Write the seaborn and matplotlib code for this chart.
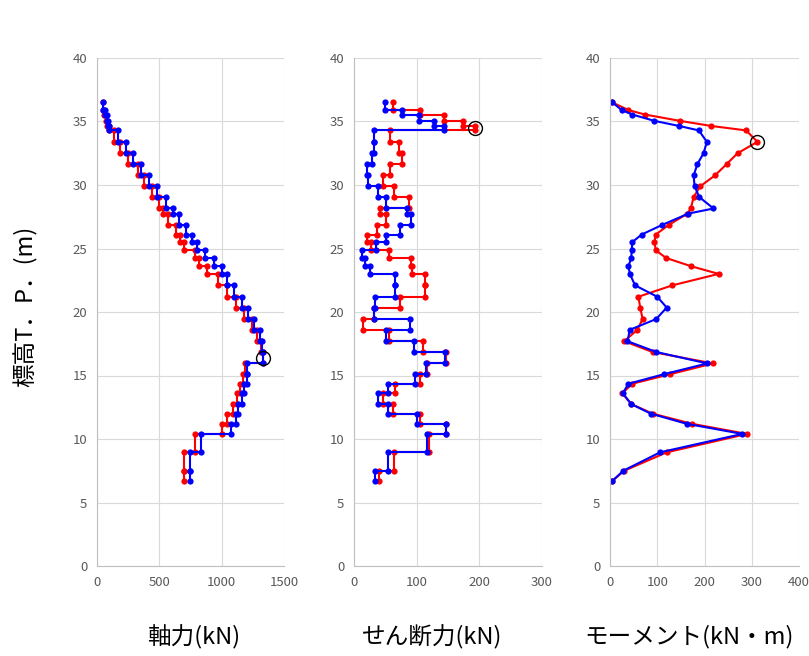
import numpy as np
import pandas as pd
import matplotlib
matplotlib.use('Agg')
import matplotlib.pyplot as plt
import seaborn as sns

# node elevations T.P. (m), top to bottom
elev = [36.5, 35.9, 35.55, 35.05, 34.65, 34.3, 33.4, 32.5, 31.65, 30.75, 29.9, 29.05,
        28.15, 27.75, 26.85, 26.1, 25.5, 24.85, 24.25, 23.6, 23.0, 22.1, 21.2, 20.35,
        19.45, 18.6, 17.7, 16.85, 15.95, 15.1, 14.35, 13.6, 12.75, 12.0, 11.2, 10.4,
        8.95, 7.5, 6.7]

# member values (one per member between two nodes)
axial_red = [50, 60, 70, 84, 94, 140, 185, 246, 327, 380, 439, 500, 527, 567, 634, 666,
             701, 786, 818, 880, 968, 1040, 1112, 1179, 1240, 1280, 1315, 1334, 1187,
             1173, 1147, 1120, 1088, 1045, 1005, 786, 701, 701]
axial_blue = [52, 65, 78, 92, 100, 172, 231, 292, 353, 418, 479, 551, 612, 655, 714, 765,
              805, 866, 936, 1002, 1040, 1099, 1160, 1214, 1259, 1307, 1320, 1334, 1205,
              1200, 1181, 1160, 1133, 1112, 1075, 834, 746, 746]

shear_red = [63, 105, 144, 174, 193, 57, 72, 76, 57, 47, 64, 88, 42, 51, 36, 21, 27, 56,
             91, 92, 113, 113, 74, 32, 14, 56, 110, 147, 116, 105, 65, 47, 62, 106, 147,
             119, 64, 40]
shear_blue = [49, 77, 104, 128, 143, 32, 32, 29, 21, 23, 39, 51, 84, 91, 74, 51, 35, 13,
              18, 25, 65, 65, 34, 32, 89, 51, 95, 145, 115, 97, 55, 38, 54, 100, 147, 117,
              54, 34]

# node values
moment_red = [5, 39, 74, 148, 214, 288, 312, 270, 247, 222, 191, 177, 171, 164, 124, 97,
              94, 97, 119, 172, 230, 132, 60, 64, 69, 58, 30, 90, 218, 127, 47, 26, 45,
              90, 173, 290, 120, 30, 5]
moment_blue = [5, 25, 47, 94, 146, 188, 205, 198, 185, 177, 179, 189, 219, 166, 110, 67,
               47, 46, 45, 39, 42, 53, 100, 120, 98, 42, 37, 98, 206, 114, 39, 27, 45, 86,
               162, 280, 106, 28, 5]

# max markers (value, elevation)
axial_max = (1334, 16.4)
shear_max = (193, 34.46)
moment_max = (312, 33.4)

x_labels = ['軸力(kN)', 'せん断力(kN)', 'モーメント(kN・m)']
y_label = '標高T．P．(m)'

sns.set_theme(style='white')
plt.rcParams['font.family'] = ['Noto Sans CJK JP', 'DejaVu Sans']


def stairs(vals, case):
    x = np.repeat(vals, 2)
    y = np.column_stack([elev[:-1], elev[1:]]).ravel()
    return pd.DataFrame({'x': x, 'y': y, 'case': case})


def nodes(vals, case):
    return pd.DataFrame({'x': vals, 'y': elev, 'case': case})


frames = [
    pd.concat([stairs(axial_red, 'red'), stairs(axial_blue, 'blue')]),
    pd.concat([stairs(shear_red, 'red'), stairs(shear_blue, 'blue')]),
    pd.concat([nodes(moment_red, 'red'), nodes(moment_blue, 'blue')]),
]
maxes = [axial_max, shear_max, moment_max]
xlims = [(0, 1500), (0, 300), (0, 400)]
xticks = [[0, 500, 1000, 1500], [0, 100, 200, 300], [0, 100, 200, 300, 400]]

W, H = 809, 656
fig = plt.figure(figsize=(W / 100, H / 100), dpi=100)
rects = [(97, 187), (354, 188), (610, 189)]
label_x = [194, 432, 689]
top, bottom = 58, 566

for i, (df, mx) in enumerate(zip(frames, maxes)):
    left, w = rects[i]
    ax = fig.add_axes([left / W, (H - bottom) / H, w / W, (bottom - top) / H])
    sns.lineplot(data=df, x='x', y='y', hue='case', hue_order=['red', 'blue'],
                 palette={'red': '#ff0000', 'blue': '#0000ff'}, sort=False,
                 estimator=None, marker='o', markersize=4.5, markeredgewidth=0,
                 linewidth=1.5, legend=False, ax=ax)
    ax.plot(mx[0], mx[1], marker='o', markersize=10, markerfacecolor='none',
            markeredgecolor='black', markeredgewidth=1)
    ax.set_xlim(*xlims[i])
    ax.set_ylim(0, 40)
    ax.set_xticks(xticks[i])
    ax.set_yticks(range(0, 41, 5))
    ax.grid(True, color='#d9d9d9', linewidth=0.8)
    ax.set_axisbelow(True)
    for s in ['top', 'right']:
        ax.spines[s].set_visible(False)
    for s in ['left', 'bottom']:
        ax.spines[s].set_color('#bfbfbf')
        ax.spines[s].set_linewidth(0.8)
    ax.tick_params(length=0, pad=7, labelsize=9.5, labelcolor='#595959')
    ax.set_xlabel('')
    ax.set_ylabel('')
    fig.text(label_x[i] / W, 1 - 637 / H, x_labels[i], ha='center', va='center',
             fontsize=17, color='black')

fig.text(25 / W, 1 - 306 / H, y_label, rotation=90, ha='center', va='center',
         fontsize=17, color='black')

fig.savefig('out.png', dpi=100)
